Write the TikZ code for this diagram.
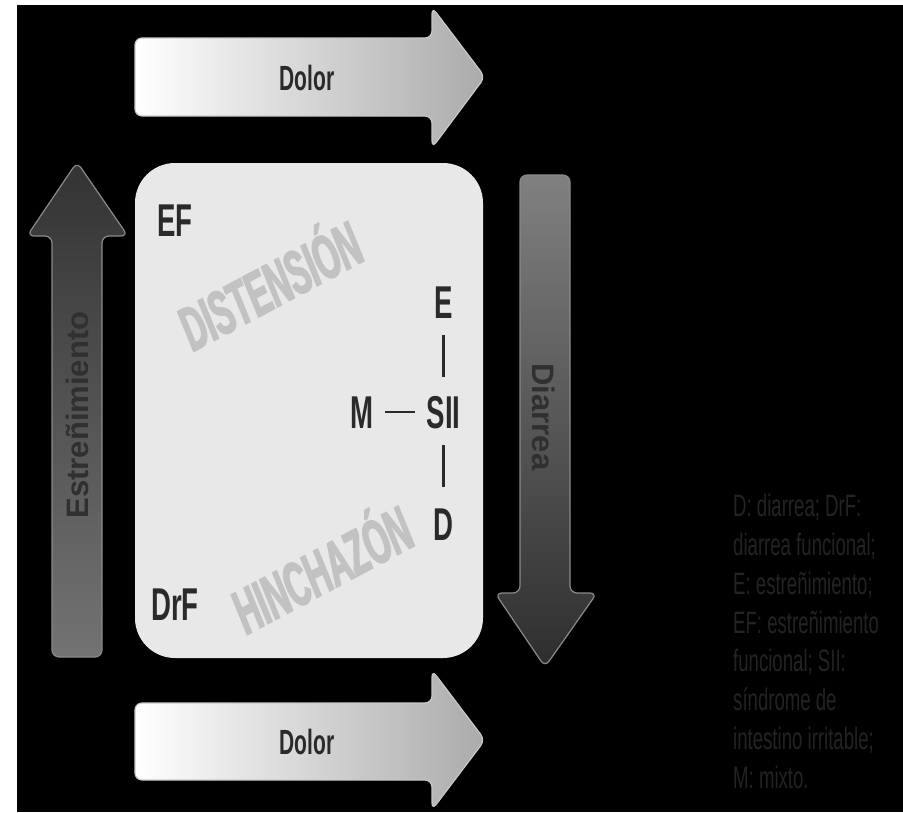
\documentclass[tikz,border=0pt]{standalone}
\usepackage{fontspec}
\setmainfont{Liberation Sans}
\newfontfamily\cond[FakeStretch=0.6]{Liberation Sans Bold}
\newfontfamily\wmfont[FakeStretch=0.52,FakeBold=2.5]{Liberation Sans Bold Italic}
\newfontfamily\legfont[FakeStretch=0.6]{Liberation Sans}
\newfontfamily\vfont{Liberation Sans Bold}
\definecolor{boxfill}{HTML}{E8E8E8}
\definecolor{ink}{HTML}{2A2A2A}
\definecolor{wm}{HTML}{C2C2C2}
\definecolor{legc}{HTML}{232323}
\definecolor{arrline}{HTML}{C8C8C8}
\definecolor{darkline}{HTML}{8A8A8A}
\definecolor{vtext}{HTML}{303030}
\tikzset{
  dolorarrow/.style={draw=arrline, line width=1.2pt, rounded corners=7pt, left color=white, right color=black!33},
  darkarrow/.style={draw=darkline, line width=1.2pt, rounded corners=7pt},
  biglbl/.style={font=\cond\fontsize{46}{46}\selectfont, text=ink, inner sep=0pt, text height=33pt, text depth=0pt},
  wmark/.style={font=\wmfont\fontsize{62}{62}\selectfont, text=wm, inner sep=0pt, text height=44pt, text depth=0pt},
  dolorlbl/.style={font=\cond\fontsize{35}{35}\selectfont, text=ink, inner sep=0pt},
  vlbl/.style={font=\vfont\fontsize{31}{31}\selectfont, text=vtext, inner sep=0pt, text height=22pt, text depth=0pt},
  linkline/.style={draw=ink, line width=2.6pt}
}
\begin{document}
\begin{tikzpicture}[x=1pt,y=-1pt]
\useasboundingbox (0,0) rectangle (903,812);
\fill[white] (0,0) rectangle (903,812);
\fill[black] (17,5) rectangle (903,812);
% top Dolor arrow
\path[dolorarrow] (135,38) -- (432,38) -- (432,7) -- (485,77) -- (432,148) -- (432,116) -- (135,116) -- cycle;
% bottom Dolor arrow
\path[dolorarrow] (135,703) -- (432,703) -- (432,670) -- (485,740) -- (432,810) -- (432,780) -- (135,780) -- cycle;
% left arrow (Estreñimiento)
\path[darkarrow, top color=black!80, bottom color=black!55] (52,657) -- (52,236) -- (27,236) -- (77,162) -- (128,236) -- (102,236) -- (102,657) -- cycle;
% right arrow (Diarrea)
\path[darkarrow, top color=black!50, bottom color=black!82] (520,175) -- (570,175) -- (570,593) -- (597,593) -- (545,667) -- (495,593) -- (520,593) -- cycle;
% central box
\fill[boxfill, rounded corners=40pt] (135,163) rectangle (483,658);
% labels on arrows
\node[dolorlbl] (dolortop) at (307,78) {Dolor};
\node[dolorlbl] (dolorbot) at (307,742) {Dolor};
\node[vlbl, rotate=90] (estr) at (77,415) {Estreñimiento};
\node[vlbl, rotate=-90] (diar) at (543,417) {Diarrea};
% watermarks
\node[wmark, rotate=28] (dist) at (270,286) {DISTENSIÓN};
\node[wmark, rotate=28] (hinch) at (322,570) {HINCHAZÓN};
% box labels
\node[biglbl] (ef) at (175,220) {EF};
\node[biglbl] (drf) at (175,604) {DrF};
\node[biglbl] (e) at (443.5,301.5) {E};
\node[biglbl] (sii) at (443.5,412) {SII};
\node[biglbl] (m) at (362,412) {M};
\node[biglbl] (d) at (443.5,523.5) {D};
\draw[linkline, shorten <=17pt, shorten >=18.5pt] (e.south) -- (sii.north);
\draw[linkline, shorten <=16pt, shorten >=20pt] (sii.south) -- (d.north);
\draw[linkline, shorten <=11.5pt, shorten >=11pt] (m.east) -- (sii.west);
% legend
\node[anchor=north west, inner sep=0pt, align=left, text=legc, font=\legfont\fontsize{31}{38.8}\selectfont] (legend) at (733,494)
{D: diarrea; DrF:\\diarrea funcional;\\E: estreñimiento;\\EF: estreñimiento\\funcional; SII:\\síndrome de\\intestino irritable;\\M: mixto.};
\end{tikzpicture}
\end{document}
